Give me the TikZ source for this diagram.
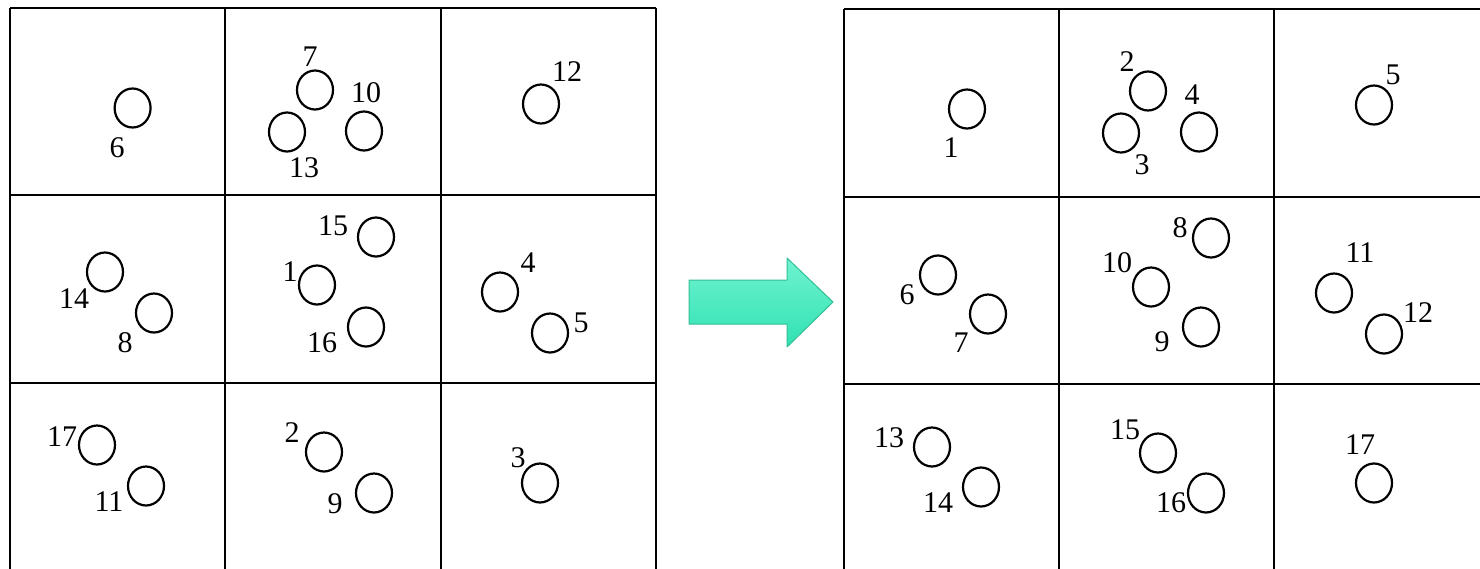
\documentclass[tikz,border=0pt]{standalone}
\usepackage{fontspec}
\setmainfont{Liberation Serif}
\newfontfamily\numfont{Liberation Serif}
\usetikzlibrary{shapes.geometric}
\definecolor{arrowtop}{HTML}{70F2D0}
\definecolor{arrowbot}{HTML}{30E2B2}
\definecolor{arrowedge}{HTML}{33BF96}
\begin{document}
\begin{tikzpicture}[x=1pt,y=-1pt,font=\numfont\fontsize{30}{34}\selectfont,
 grid/.style={draw=black,line width=1.8pt},
 ball/.style={ellipse,draw=black,line width=2.2pt,minimum width=36pt,minimum height=39pt,inner sep=0pt},
 num/.style={inner sep=0pt}]
\useasboundingbox (0,0) rectangle (1480,568);
\clip (0,0) rectangle (1480,568);
\fill[white] (0,0) rectangle (1480,568);
\foreach \x in {10,225,441,656} {\draw[grid] (\x,8) -- (\x,580);}
\foreach \y in {8,195,383} {\draw[grid] (10,\y) -- (656,\y);}
\foreach \x in {844,1059,1274} {\draw[grid] (\x,9) -- (\x,580);}
\foreach \y in {9,197,384} {\draw[grid] (844,\y) -- (1490,\y);}
\foreach \cx/\cy/\lx/\ly/\t in {132.6/108/117/148/6,315/90/310/57/7,287/132/304/168/13,364/131/366/93/10,
 541/104/567/72/12,376/237/333/226/15,317/285/290/272/1,105/272/74/299/14,154/313/125/343/8,
 500/292/528/263/4,550/333/581/323/5,366/327/322/343/16,97/445/62/437/17,146/486/109/502/11,
 324/452/292/433/2,374/493/335/504/9,540/483/518/458/3}
 {\node[ball] (a\t) at (\cx,\cy) {};
  \node[num] (na\t) at (\lx,\ly) {\t};}
\foreach \cx/\cy/\lx/\ly/\t in {967/109/951/148/1,1148/91/1127/62/2,1121/133/1142/165/3,1199/132/1192/95/4,
 1374/105/1393/75/5,938/275/907/295/6,988/314/961/343/7,1211/238/1180/228/8,1201/327/1162/342/9,
 1151/287/1117/263/10,1334/293/1360/253/11,1384/334/1418/313/12,932/447/889/438/13,981/487/938/503/14,
 1158/453/1125/430/15,1206/493/1171/503/16,1374/483/1360/445/17}
 {\node[ball] (b\t) at (\cx,\cy) {};
  \node[num] (nb\t) at (\lx,\ly) {\t};}
\shade[top color=arrowtop,bottom color=arrowbot,draw=arrowedge,line width=1pt,line join=round]
 (689,280) -- (787,280) -- (787,258) -- (833,302) -- (787,347) -- (787,324) -- (689,324) -- cycle;
\end{tikzpicture}
\end{document}
